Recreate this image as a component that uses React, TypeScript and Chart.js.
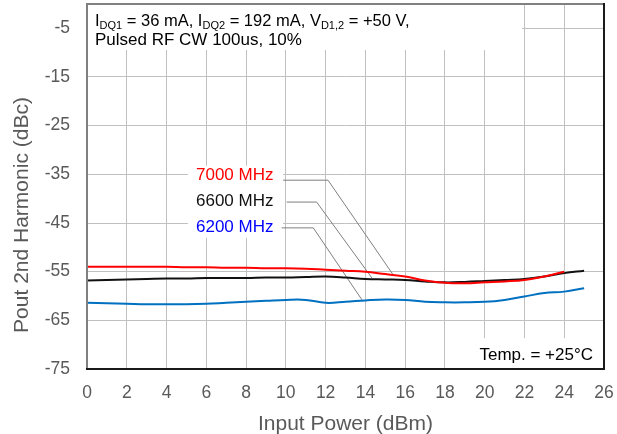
import React, { useEffect, useRef } from 'react';
import { Chart, registerables } from 'chart.js';

Chart.register(...registerables);

// ---------------- data ----------------
const inputPower = [0, 1, 2, 3, 4, 5, 6, 7, 8, 9, 10, 11, 12, 13, 14, 15, 16, 17, 18, 19, 20, 21, 22, 23, 24, 25];

const harm7000 = [-54.0, -54.0, -54.0, -54.0, -54.0, -54.1, -54.1, -54.2, -54.2, -54.3, -54.3, -54.4, -54.6, -54.8, -55.0, -55.5, -56.0, -56.8, -57.3, -57.4, -57.2, -57.0, -56.7, -56.0, -55.0, null];
const harm6600 = [-56.8, -56.7, -56.6, -56.5, -56.4, -56.4, -56.3, -56.3, -56.3, -56.2, -56.2, -56.1, -56.0, -56.2, -56.5, -56.6, -56.7, -57.0, -57.2, -57.1, -56.9, -56.7, -56.5, -56.0, -55.3, -54.8];
const harm6200 = [-61.4, -61.5, -61.6, -61.7, -61.7, -61.7, -61.6, -61.4, -61.2, -61.0, -60.8, -60.8, -61.4, -61.2, -60.9, -60.7, -60.8, -61.2, -61.3, -61.3, -61.2, -60.8, -60.1, -59.4, -59.1, -58.4];

const xTickValues = [0, 2, 4, 6, 8, 10, 12, 14, 16, 18, 20, 22, 24, 26];
const yTickValues = [-75, -65, -55, -45, -35, -25, -15, -5];

const seriesNames = ['7000 MHz', '6600 MHz', '6200 MHz'];
const lineColors = ['#ff0000', '#111111', '#0070c0'];
const labelColors = ['#ff0000', '#111111', '#0000ff'];

// leader lines (data coordinates): [start, corner, end]
const leaderStartX = [9.86, 10.04, 9.79];
const leaderCornerX = [12.12, 11.55, 11.38];
const leaderY = [-36.2, -40.7, -46.0];
const leaderEndX = [15.44, 14.33, 13.83];
const leaderEndY = [-55.9, -56.3, -60.8];
const labelX = 5.48;
const labelY = [-35.3, -40.5, -45.9];

const xTitle = 'Input Power (dBm)';
const yTitle = 'Pout 2nd Harmonic (dBc)';
const noteLine2 = 'Pulsed RF CW 100us, 10%';
const tempNote = 'Temp. = +25°C';

const FONT = '"Liberation Sans", Arial, Helvetica, sans-serif';

const overlayPlugin = {
  id: 'overlay',
  beforeDatasetsDraw(chart: any) {
    const { ctx, chartArea, scales } = chart;
    const xs = scales.x;
    const ys = scales.y;
    ctx.save();
    // white boxes hiding grid lines
    ctx.fillStyle = '#ffffff';
    ctx.fillRect(chartArea.left + 1, chartArea.top + 1, 434, 45);
    ctx.fillRect(chartArea.right - 144, chartArea.bottom - 31, 143, 30);
    ctx.fillRect(xs.getPixelForValue(labelX) - 8, ys.getPixelForValue(labelY[0]) - 10, 95, 72);

    // leader lines
    ctx.strokeStyle = '#7f7f7f';
    ctx.lineWidth = 1;
    for (let i = 0; i < 3; i++) {
      ctx.beginPath();
      ctx.moveTo(xs.getPixelForValue(leaderStartX[i]), ys.getPixelForValue(leaderY[i]));
      ctx.lineTo(xs.getPixelForValue(leaderCornerX[i]), ys.getPixelForValue(leaderY[i]));
      ctx.lineTo(xs.getPixelForValue(leaderEndX[i]), ys.getPixelForValue(leaderEndY[i]));
      ctx.stroke();
    }

    // series labels
    ctx.font = `17px ${FONT}`;
    ctx.textAlign = 'left';
    ctx.textBaseline = 'middle';
    for (let i = 0; i < 3; i++) {
      ctx.fillStyle = labelColors[i];
      ctx.fillText(seriesNames[i], xs.getPixelForValue(labelX), ys.getPixelForValue(labelY[i]));
    }

    // top annotation with subscripts
    const runs: [string, boolean][] = [
      ['I', false], ['DQ1', true], [' = 36 mA, I', false], ['DQ2', true],
      [' = 192 mA, V', false], ['D1,2', true], [' = +50 V,', false],
    ];
    ctx.fillStyle = '#000000';
    ctx.textBaseline = 'alphabetic';
    let cx = chartArea.left + 8;
    const base1 = chartArea.top + 22;
    for (const [t, sub] of runs) {
      ctx.font = sub ? `11px ${FONT}` : `16.5px ${FONT}`;
      ctx.fillText(t, cx, sub ? base1 + 3 : base1);
      cx += ctx.measureText(t).width;
    }
    ctx.font = `17px ${FONT}`;
    ctx.fillText(noteLine2, chartArea.left + 8, chartArea.top + 41);

    // temperature note
    ctx.textAlign = 'right';
    ctx.fillText(tempNote, chartArea.right - 11, chartArea.bottom - 9);
    ctx.restore();
  },
  afterDraw(chart: any) {
    const { ctx, chartArea } = chart;
    const { left, right, top, bottom } = chartArea;
    ctx.save();
    ctx.lineWidth = 2;
    ctx.strokeStyle = '#808080';
    ctx.beginPath();
    ctx.moveTo(left, bottom);
    ctx.lineTo(left, top);
    ctx.lineTo(right, top);
    ctx.stroke();
    ctx.strokeStyle = '#1a1a1a';
    ctx.beginPath();
    ctx.moveTo(right, top - 1);
    ctx.lineTo(right, bottom);
    ctx.lineTo(left - 1, bottom);
    ctx.stroke();

    // axis titles
    ctx.fillStyle = '#595959';
    ctx.font = `21px ${FONT}`;
    ctx.textAlign = 'center';
    ctx.textBaseline = 'middle';
    ctx.fillText(xTitle, (left + right) / 2, 424);
    ctx.translate(22, 215);
    ctx.rotate(-Math.PI / 2);
    ctx.fillText(yTitle, 0, 0);
    ctx.restore();
  },
};

export default function App() {
  const canvasRef = useRef<HTMLCanvasElement | null>(null);

  useEffect(() => {
    document.body.style.margin = '0';
    const canvas = canvasRef.current;
    if (!canvas) return;
    const mk = (arr: (number | null)[]) => inputPower.map((x, i) => ({ x, y: arr[i] }));
    const chart = new Chart(canvas, {
      type: 'line',
      data: {
        datasets: [
          { label: seriesNames[0], data: mk(harm7000), borderColor: lineColors[0], borderWidth: 2, pointRadius: 0, tension: 0.4, fill: false },
          { label: seriesNames[1], data: mk(harm6600), borderColor: lineColors[1], borderWidth: 2, pointRadius: 0, tension: 0.4, fill: false },
          { label: seriesNames[2], data: mk(harm6200), borderColor: lineColors[2], borderWidth: 2, pointRadius: 0, tension: 0.4, fill: false },
        ],
      },
      options: {
        animation: false,
        responsive: false,
        devicePixelRatio: 1,
        layout: { padding: { top: 4, right: 13, left: 0, bottom: 0 } },
        plugins: { legend: { display: false }, tooltip: { enabled: false } },
        scales: {
          x: {
            type: 'linear',
            min: 0,
            max: 26,
            afterBuildTicks: (axis: any) => { axis.ticks = xTickValues.map((v) => ({ value: v })); },
            afterFit: (axis: any) => {
              axis.height = 65;
              axis.paddingLeft = 0; axis.paddingRight = 0; axis.paddingTop = 0; axis.paddingBottom = 0;
            },
            grid: { color: '#c0c0c0', lineWidth: 1, drawTicks: false },
            border: { display: false },
            ticks: { color: '#595959', font: { family: FONT, size: 17.5 }, padding: 14, maxRotation: 0, autoSkip: false },
          },
          y: {
            type: 'linear',
            min: -75,
            max: 0,
            afterBuildTicks: (axis: any) => { axis.ticks = yTickValues.map((v) => ({ value: v })); },
            afterFit: (axis: any) => {
              axis.width = 87;
              axis.paddingLeft = 0; axis.paddingRight = 0; axis.paddingTop = 0; axis.paddingBottom = 0;
            },
            grid: { color: '#c0c0c0', lineWidth: 1, drawTicks: false },
            border: { display: false },
            ticks: { color: '#595959', font: { family: FONT, size: 17.5 }, padding: 17, autoSkip: false },
          },
        },
      },
      plugins: [overlayPlugin],
    } as any);
    return () => chart.destroy();
  }, []);

  return (
    <div style={{ width: 617, height: 434 }}>
      <canvas ref={canvasRef} width={617} height={434} style={{ width: 617, height: 434, display: 'block' }} />
    </div>
  );
}
